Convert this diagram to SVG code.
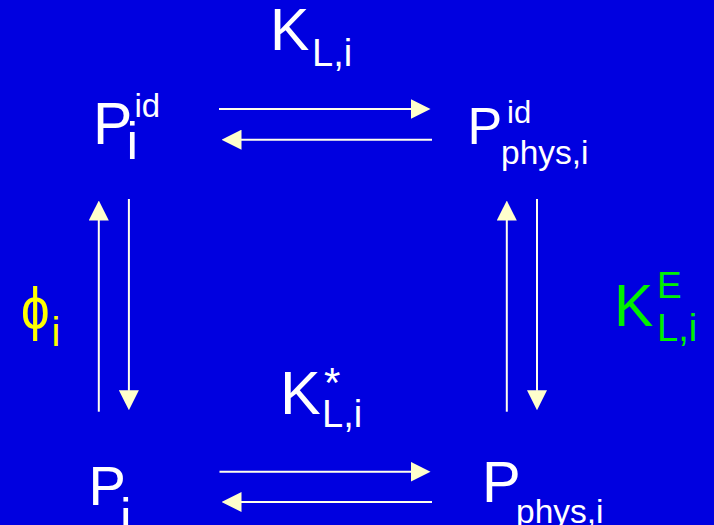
<svg xmlns="http://www.w3.org/2000/svg" width="714" height="525" viewBox="0 0 714 525">
  <style>
    .t { font-family: "Liberation Sans", Arial, sans-serif; fill: #FFFFFF; }
    .y { fill: #FFFF00; }
    .g { fill: #00F000; }
    .ln { stroke: #FFFFEE; stroke-width: 2; fill: none; marker-end: url(#ah); }
  </style>
  <defs>
    <marker id="ah" markerUnits="userSpaceOnUse" viewBox="0 0 20 20" refX="0.5" refY="10" markerWidth="20" markerHeight="20" orient="auto">
      <path d="M0,0 L20,10 L0,20 z" fill="#FFFFCC"/>
    </marker>
  </defs>
  <rect x="0" y="0" width="714" height="525" fill="#0000E0"/>

  <g id="connectors">
    <line class="ln" x1="219" y1="109" x2="411" y2="109"/>
    <line class="ln" x1="432" y1="139.7" x2="241" y2="139.7"/>
    <line class="ln" x1="219.5" y1="471.7" x2="411" y2="471.7"/>
    <line class="ln" x1="432" y1="502" x2="241" y2="502"/>
    <line class="ln" x1="98.8" y1="411.7" x2="98.8" y2="220"/>
    <line class="ln" x1="128.9" y1="199" x2="128.9" y2="390.7"/>
    <line class="ln" x1="506.8" y1="411.7" x2="506.8" y2="220"/>
    <line class="ln" x1="537" y1="199" x2="537" y2="390.7"/>
  </g>

  <g id="label-KLi">
    <text class="t" x="270" y="50" font-size="59">K</text>
    <text class="t" x="312" y="66" font-size="38">L,i</text>
  </g>

  <g id="node-Pi-id">
    <text class="t" x="93" y="143.5" font-size="59">P</text>
    <text class="t" x="134.5" y="117" font-size="33">id</text>
    <text class="t" x="126.5" y="159" font-size="52">i</text>
  </g>

  <g id="node-Pphys-id">
    <text class="t" x="467.5" y="143.5" font-size="52">P</text>
    <text class="t" x="507" y="123" font-size="31">id</text>
    <text class="t" x="501" y="163.5" font-size="33.5">phys,i</text>
  </g>

  <g id="label-phi">
    <text class="t y" transform="translate(21,329) scale(0.85,1)" x="0" y="0" font-size="60" font-family="DejaVu Sans, sans-serif">ϕ</text>
    <text class="t y" x="51.5" y="346" font-size="40">i</text>
  </g>

  <g id="label-KLiE">
    <text class="t g" x="614" y="325.7" font-size="59">K</text>
    <text class="t g" x="657" y="298" font-size="37">E</text>
    <text class="t g" x="657" y="340.7" font-size="38">L,i</text>
  </g>

  <g id="label-KLi-star">
    <text class="t" x="280" y="414" font-size="61">K</text>
    <text class="t" x="324" y="397" font-size="42">*</text>
    <text class="t" x="322" y="427" font-size="38">L,i</text>
  </g>

  <g id="node-Pi">
    <text class="t" x="88.5" y="505" font-size="56">P</text>
    <text class="t" x="120" y="535" font-size="52">i</text>
  </g>

  <g id="node-Pphys">
    <text class="t" x="482" y="501.7" font-size="58">P</text>
    <text class="t" x="516" y="522.7" font-size="33.5">phys,i</text>
  </g>
</svg>
